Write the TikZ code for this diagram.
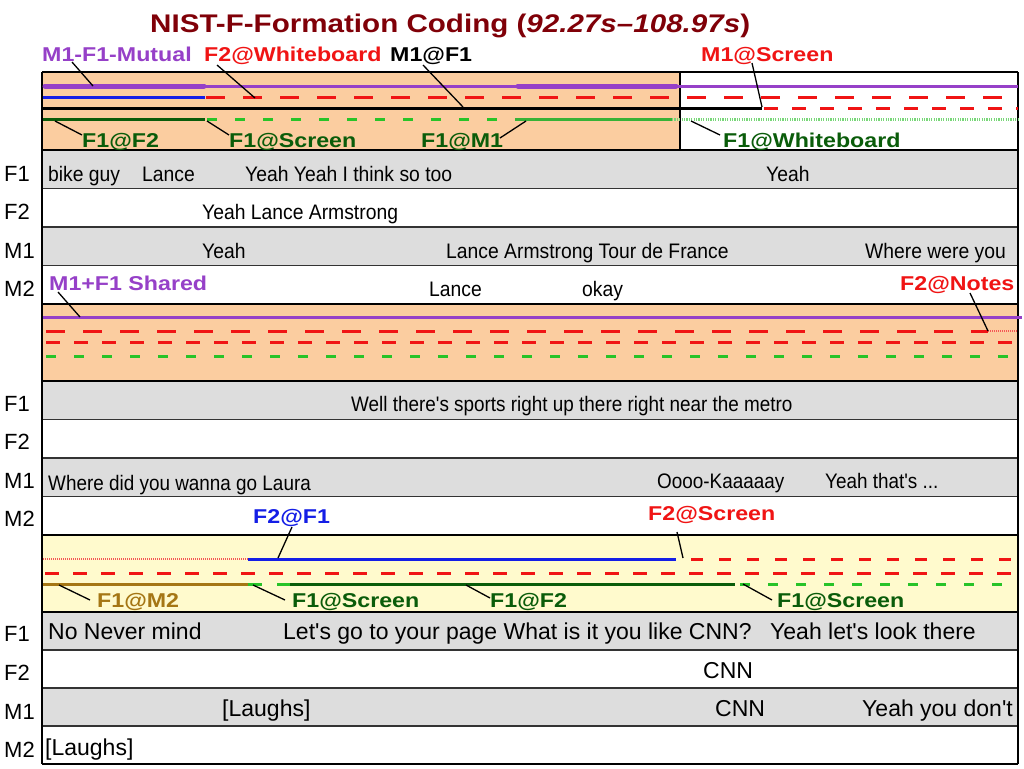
\documentclass[tikz,border=0pt]{standalone}
\usepackage{fontspec}
\setmainfont{Liberation Sans}
\usepackage{graphicx}
\definecolor{ttl}{RGB}{128,0,8}
\definecolor{pur}{RGB}{150,64,200}
\definecolor{rd}{RGB}{240,20,20}
\definecolor{dg}{RGB}{10,92,10}
\definecolor{gr}{RGB}{40,195,40}
\definecolor{mg}{RGB}{55,178,55}
\definecolor{lg}{RGB}{120,215,120}
\definecolor{bl}{RGB}{20,30,230}
\definecolor{br}{RGB}{165,118,20}
\definecolor{orf}{RGB}{251,205,160}
\definecolor{yef}{RGB}{255,250,205}
\definecolor{grf}{RGB}{221,221,221}
\definecolor{lrd}{RGB}{245,85,85}
\newcommand{\wx}[1]{\scalebox{1.16}[1]{#1}}
\newcommand{\nx}[1]{\scalebox{0.92}[1]{#1}}
\newcommand{\mx}[1]{\scalebox{0.9}[1]{#1}}
\newcommand{\ap}{\textquotesingle}
\tikzset{
  lab/.style={inner sep=0pt, anchor=base west, font=\bfseries\fontsize{20}{20}\selectfont},
  rt/.style={inner sep=0pt, anchor=base west, font=\fontsize{21}{21}\selectfont},
  rtb/.style={inner sep=0pt, anchor=base west, font=\fontsize{23}{23}\selectfont},
  rowlab/.style={inner sep=0pt, anchor=base west, font=\fontsize{22}{22}\selectfont},
  tl/.style={line width=3pt},
  lead/.style={line width=1.3pt, black},
  f2wb/.style={rd, line width=3pt, dash pattern=on 19pt off 18pt},
  m1scr/.style={rd, line width=3pt, dash pattern=on 14pt off 14pt},
  f2scr/.style={rd, line width=3pt, dash pattern=on 12pt off 16pt},
  f1scr/.style={gr, line width=3pt, dash pattern=on 10pt off 18pt},
  thindot/.style={lrd, line width=2pt, dash pattern=on 1pt off 1pt},
  frame/.style={black, line width=2pt},
  sep/.style={black!80, line width=1.5pt}
}
\begin{document}
\begin{tikzpicture}[x=1pt,y=-1pt]
\useasboundingbox (0,0) rectangle (1024,768);
\fill[white] (0,0) rectangle (1024,768);
% fills
\fill[orf] (42,72) rectangle (680,150);
\fill[grf] (42,150) rectangle (1018,188.5);
\fill[grf] (42,227) rectangle (1018,265.5);
\fill[orf] (42,304) rectangle (1018,381);
\fill[grf] (42,381) rectangle (1018,419.5);
\fill[grf] (42,458) rectangle (1018,496.5);
\fill[yef] (42,535) rectangle (1018,612);
\fill[grf] (42,612) rectangle (1018,650);
\fill[grf] (42,688) rectangle (1018,726);
% frame
\foreach \yy in {188.5,227,265.5,419.5,458,496.5,650,688,726}
  \draw[sep] (42,\yy) -- (1018,\yy);
\foreach \yy in {72,150,304,381,535,612,764}
  \draw[frame] (42,\yy) -- (1018,\yy);
\draw[frame] (42,72) -- (42,764);
\draw[frame] (1018,72) -- (1018,764);
\draw[black, line width=1.2pt] (680,72) -- (680,150);

% ---- band 1 timelines
\draw[pur, tl] (205,86) -- (1018,86);
\draw[pur, line width=5pt, line cap=round] (45,86) -- (204,86);
\draw[pur, line width=5pt, line cap=round] (518,86) -- (676,86);
\draw[bl, tl] (43,97) -- (205,97);
\draw[f2wb] (206,97) -- (1018,97);
\draw[black, tl] (43,108) -- (762,108);
\draw[m1scr] (764,108) -- (1018,108);
\draw[dg, tl] (43,119) -- (205,119);
\draw[f1scr] (207,119) -- (513,119);
\draw[mg, tl] (515,119) -- (672,119);
\draw[lg, line width=3pt, dash pattern=on 1.2pt off 1.2pt] (672,119) -- (1018,119);

% ---- band 2 timelines
\draw[pur, tl] (43,317) -- (1022,317);
\draw[f2wb] (46,331) -- (988,331);
\draw[thindot] (988,331) -- (1018,331);
\draw[m1scr] (46,342) -- (1018,342);
\draw[f1scr] (46,356) -- (1018,356);

% ---- band 3 timelines
\draw[thindot] (43,559) -- (248,559);
\draw[bl, tl] (248,559) -- (676,559);
\draw[f2scr] (691,559) -- (1018,559);
\draw[m1scr] (45,573) -- (1018,573);
\draw[br, tl] (43,584) -- (248,584);
\draw[gr, tl] (248,584) -- (262,584);
\draw[gr, tl] (277,584) -- (290,584);
\draw[dg, tl] (290,584) -- (735,584);
\draw[f1scr] (740,584) -- (1010,584);

% ---- title
\node[inner sep=0pt, anchor=base west, text=ttl, font=\bfseries\fontsize{25.5}{26}\selectfont] (title) at (150,33)
  {\wx{NIST-F-Formation Coding (\textit{92.27s–108.97s})}};

% ---- band 1 labels
\node[lab, text=pur] (lmut) at (42,61) {\wx{M1-F1-Mutual}};
\node[lab, text=rd] (lf2wb) at (204,61) {\wx{F2@Whiteboard}};
\node[lab, text=black] (lm1f1) at (390,61) {\wx{M1@F1}};
\node[lab, text=rd] (lm1scr) at (701,61) {\wx{M1@Screen}};
\node[lab, text=dg] (lf1f2) at (82,147) {\wx{F1@F2}};
\node[lab, text=dg] (lf1scr) at (229,147) {\wx{F1@Screen}};
\node[lab, text=dg] (lf1m1) at (421,147) {\wx{F1@M1}};
\node[lab, text=dg] (lf1wb) at (723,147) {\wx{F1@Whiteboard}};

\coordinate (a1) at (72,62);   \coordinate (b1) at (93,86);
\coordinate (a2) at (217,65);  \coordinate (b2) at (255,98);
\coordinate (a3) at (423,65);  \coordinate (b3) at (463,107);
\coordinate (a4) at (752,63);  \coordinate (b4) at (762,107);
\coordinate (a5) at (82,135);  \coordinate (b5) at (55,121);
\coordinate (a6) at (229,135); \coordinate (b6) at (207,121);
\coordinate (a7) at (500,138); \coordinate (b7) at (526,121);
\coordinate (a8) at (720,135); \coordinate (b8) at (691,121);
\draw[lead] (a1) -- (b1);
\draw[lead] (a2) -- (b2);
\draw[lead] (a3) -- (b3);
\draw[lead] (a4) -- (b4);
\draw[lead] (a5) -- (b5);
\draw[lead] (a6) -- (b6);
\draw[lead] (a7) -- (b7);
\draw[lead] (a8) -- (b8);

% ---- band 2 labels
\node[lab, text=pur] (lshared) at (49,290) {\wx{M1+F1 Shared}};
\node[lab, text=rd] (lnotes) at (900,290) {\wx{F2@Notes}};
\coordinate (a9) at (58,292);   \coordinate (b9) at (80,317);
\coordinate (a10) at (970,293); \coordinate (b10) at (988,331);
\draw[lead] (a9) -- (b9);
\draw[lead] (a10) -- (b10);

% ---- band 3 labels
\node[lab, text=bl] (lf2f1) at (253,523) {\wx{F2@F1}};
\node[lab, text=rd] (lf2scr) at (648,520) {\wx{F2@Screen}};
\node[lab, text=br] (lf1m2) at (97,607) {\wx{F1@M2}};
\node[lab, text=dg] (lf1scrb) at (292,607) {\wx{F1@Screen}};
\node[lab, text=dg] (lf1f2b) at (490,607) {\wx{F1@F2}};
\node[lab, text=dg] (lf1scrc) at (777,607) {\wx{F1@Screen}};
\coordinate (a11) at (292,527); \coordinate (b11) at (278,558);
\coordinate (a12) at (677,532); \coordinate (b12) at (683,558);
\coordinate (a13) at (90,600);  \coordinate (b13) at (59,585);
\coordinate (a14) at (285,600); \coordinate (b14) at (253,585);
\coordinate (a15) at (490,598); \coordinate (b15) at (466,585);
\coordinate (a16) at (772,600); \coordinate (b16) at (743,584);
\draw[lead] (a11) -- (b11);
\draw[lead] (a12) -- (b12);
\draw[lead] (a13) -- (b13);
\draw[lead] (a14) -- (b14);
\draw[lead] (a15) -- (b15);
\draw[lead] (a16) -- (b16);

% ---- row labels
\node[rowlab] (r1a) at (4,181) {F1};
\node[rowlab] (r1b) at (4,219.5) {F2};
\node[rowlab] (r1c) at (4,258) {M1};
\node[rowlab] (r1d) at (4,296.5) {M2};
\node[rowlab] (r2a) at (4,411) {F1};
\node[rowlab] (r2b) at (4,449.5) {F2};
\node[rowlab] (r2c) at (4,488) {M1};
\node[rowlab] (r2d) at (4,526.5) {M2};
\node[rowlab] (r3a) at (4,641) {F1};
\node[rowlab] (r3b) at (4,680) {F2};
\node[rowlab] (r3c) at (4,719) {M1};
\node[rowlab] (r3d) at (4,757) {M2};

% ---- block 1 texts
\node[rt] (t1) at (48,181) {\nx{bike guy}};
\node[rt] (t2) at (142,181) {\nx{Lance}};
\node[rt] (t3) at (245,181) {\nx{Yeah Yeah I think so too}};
\node[rt] (t4) at (766,181) {\nx{Yeah}};
\node[rt] (t5) at (202,219.5) {\nx{Yeah Lance Armstrong}};
\node[rt] (t6) at (202,258) {\nx{Yeah}};
\node[rt] (t7) at (446,258) {\nx{Lance Armstrong Tour de France}};
\node[rt] (t8) at (865,258) {\nx{Where were you}};
\node[rt] (t9) at (429,296.5) {\nx{Lance}};
\node[rt] (t10) at (582,296.5) {\nx{okay}};

% ---- block 2 texts
\node[rt] (u1) at (351,411) {\mx{Well there\ap s sports right up there right near the metro}};
\node[rt] (u2) at (48,490) {\mx{Where did you wanna go Laura}};
\node[rt] (u3) at (657,488) {\mx{Oooo-Kaaaaay}};
\node[rt] (u4) at (825,488) {\mx{Yeah that\ap s ...}};

% ---- block 3 texts
\node[rtb] (v1) at (48,639) {No Never mind};
\node[rtb] (v2) at (283,639) {Let\ap s go to your page What is it you like CNN?};
\node[rtb] (v3) at (770,639) {Yeah let\ap s look there};
\node[rtb] (v4) at (703,678) {CNN};
\node[rtb] (v5) at (222,716) {[Laughs]};
\node[rtb] (v6) at (715,716) {CNN};
\node[rtb] (v7) at (862,716) {Yeah you don\ap t};
\node[rtb] (v8) at (45,755) {[Laughs]};
\end{tikzpicture}
\end{document}
